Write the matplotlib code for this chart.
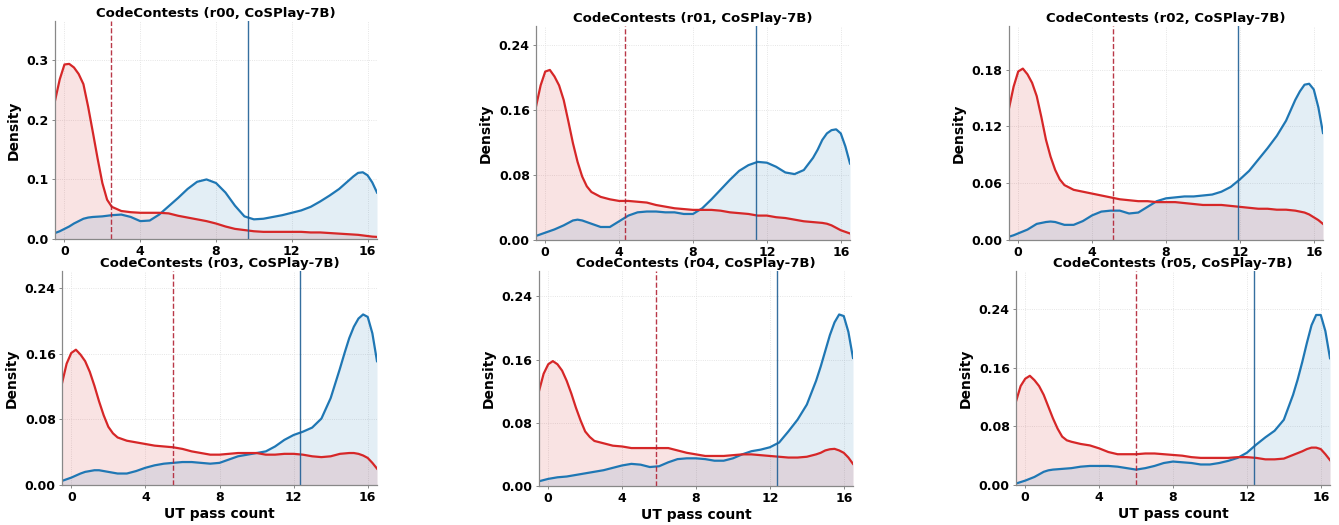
import numpy as np
import matplotlib
matplotlib.use("Agg")
import matplotlib.pyplot as plt

# density curves; denser sampling near the peaks
GRID = ([-0.5, -0.25, 0.0, 0.25, 0.5, 0.75, 1.0, 1.25, 1.5, 1.75, 2.0, 2.25, 2.5]
        + [3.0 + 0.5 * k for k in range(24)]
        + [14.75, 15.0, 15.25, 15.5, 15.75, 16.0, 16.25, 16.5])
RUNS = ["r00", "r01", "r02", "r03", "r04", "r05"]

fail_r00 = [0.232, 0.268, 0.293, 0.294, 0.288, 0.277, 0.260, 0.222, 0.179, 0.135, 0.094, 0.066, 0.054,
            0.047, 0.045, 0.044, 0.044, 0.044, 0.043, 0.039, 0.036, 0.033, 0.030, 0.026, 0.021,
            0.017, 0.015, 0.013, 0.012, 0.012, 0.012, 0.012, 0.012, 0.011, 0.011, 0.010, 0.009,
            0.0085, 0.008, 0.0075, 0.007, 0.006, 0.005, 0.004, 0.0035]
pass_r00 = [0.010, 0.013, 0.017, 0.021, 0.026, 0.030, 0.034, 0.036, 0.037, 0.0375, 0.038, 0.039, 0.040,
            0.041, 0.037, 0.030, 0.031, 0.041, 0.055, 0.069, 0.084, 0.096, 0.100, 0.094, 0.078,
            0.056, 0.038, 0.033, 0.034, 0.037, 0.040, 0.044, 0.048, 0.054, 0.063, 0.073, 0.084,
            0.091, 0.098, 0.105, 0.111, 0.112, 0.107, 0.095, 0.078]

fail_r01 = [0.164, 0.190, 0.207, 0.209, 0.201, 0.190, 0.172, 0.146, 0.119, 0.096, 0.078, 0.066, 0.059,
            0.053, 0.050, 0.048, 0.048, 0.047, 0.046, 0.043, 0.041, 0.039, 0.038, 0.037, 0.037,
            0.037, 0.036, 0.034, 0.033, 0.032, 0.030, 0.030, 0.028, 0.027, 0.025, 0.023, 0.022,
            0.0215, 0.021, 0.020, 0.018, 0.015, 0.012, 0.010, 0.008]
pass_r01 = [0.005, 0.007, 0.009, 0.011, 0.013, 0.0155, 0.018, 0.021, 0.024, 0.025, 0.024, 0.022, 0.020,
            0.016, 0.016, 0.023, 0.030, 0.034, 0.035, 0.035, 0.034, 0.034, 0.032, 0.032, 0.039,
            0.050, 0.062, 0.074, 0.085, 0.092, 0.096, 0.095, 0.090, 0.083, 0.081, 0.086, 0.101,
            0.111, 0.123, 0.131, 0.135, 0.136, 0.131, 0.115, 0.094]

fail_r02 = [0.139, 0.162, 0.178, 0.181, 0.175, 0.166, 0.152, 0.130, 0.106, 0.088, 0.074, 0.064, 0.058,
            0.053, 0.051, 0.049, 0.047, 0.045, 0.043, 0.042, 0.041, 0.041, 0.040, 0.040, 0.040,
            0.039, 0.038, 0.037, 0.037, 0.037, 0.036, 0.035, 0.034, 0.033, 0.033, 0.032, 0.032,
            0.0315, 0.031, 0.030, 0.029, 0.027, 0.024, 0.021, 0.017]
pass_r02 = [0.0035, 0.005, 0.007, 0.009, 0.011, 0.014, 0.017, 0.018, 0.019, 0.0195, 0.019, 0.0175, 0.016,
            0.016, 0.020, 0.026, 0.030, 0.031, 0.031, 0.028, 0.029, 0.035, 0.041, 0.044, 0.045,
            0.046, 0.046, 0.047, 0.048, 0.051, 0.056, 0.064, 0.073, 0.085, 0.097, 0.110, 0.126,
            0.137, 0.148, 0.157, 0.164, 0.165, 0.159, 0.140, 0.113]

fail_r03 = [0.124, 0.148, 0.161, 0.165, 0.159, 0.151, 0.138, 0.121, 0.102, 0.085, 0.071, 0.063, 0.058,
            0.054, 0.052, 0.050, 0.048, 0.047, 0.046, 0.044, 0.041, 0.039, 0.037, 0.037, 0.038,
            0.039, 0.039, 0.039, 0.037, 0.037, 0.038, 0.038, 0.037, 0.035, 0.034, 0.035, 0.038,
            0.0385, 0.039, 0.039, 0.038, 0.036, 0.033, 0.027, 0.020]
pass_r03 = [0.005, 0.007, 0.009, 0.0115, 0.014, 0.016, 0.017, 0.018, 0.018, 0.017, 0.016, 0.015, 0.014,
            0.014, 0.017, 0.021, 0.024, 0.026, 0.027, 0.028, 0.028, 0.027, 0.026, 0.027, 0.031,
            0.035, 0.037, 0.039, 0.041, 0.047, 0.055, 0.061, 0.065, 0.070, 0.081, 0.106, 0.142,
            0.161, 0.179, 0.193, 0.203, 0.208, 0.205, 0.185, 0.151]

fail_r04 = [0.120, 0.142, 0.154, 0.158, 0.154, 0.146, 0.133, 0.117, 0.099, 0.083, 0.069, 0.062, 0.057,
            0.054, 0.051, 0.050, 0.048, 0.048, 0.048, 0.048, 0.048, 0.045, 0.042, 0.040, 0.038,
            0.038, 0.038, 0.039, 0.040, 0.040, 0.039, 0.038, 0.037, 0.036, 0.036, 0.037, 0.040,
            0.042, 0.045, 0.0465, 0.047, 0.045, 0.042, 0.036, 0.028]
pass_r04 = [0.006, 0.0075, 0.009, 0.010, 0.011, 0.0115, 0.012, 0.013, 0.014, 0.015, 0.016, 0.017, 0.018,
            0.020, 0.023, 0.026, 0.028, 0.027, 0.024, 0.025, 0.030, 0.034, 0.035, 0.035, 0.034,
            0.032, 0.032, 0.035, 0.040, 0.044, 0.046, 0.049, 0.055, 0.069, 0.084, 0.103, 0.133,
            0.151, 0.171, 0.191, 0.207, 0.217, 0.215, 0.195, 0.162]

fail_r05 = [0.114, 0.135, 0.145, 0.149, 0.143, 0.135, 0.123, 0.107, 0.091, 0.077, 0.066, 0.061, 0.059,
            0.056, 0.054, 0.050, 0.045, 0.042, 0.042, 0.042, 0.043, 0.043, 0.042, 0.041, 0.040,
            0.038, 0.037, 0.037, 0.037, 0.037, 0.038, 0.038, 0.037, 0.035, 0.035, 0.036, 0.041,
            0.0435, 0.046, 0.049, 0.051, 0.051, 0.049, 0.042, 0.034]
pass_r05 = [0.002, 0.004, 0.006, 0.0085, 0.011, 0.0145, 0.018, 0.020, 0.021, 0.0215, 0.022, 0.0225, 0.023,
            0.025, 0.026, 0.026, 0.026, 0.025, 0.023, 0.021, 0.023, 0.026, 0.030, 0.032, 0.031,
            0.030, 0.028, 0.028, 0.030, 0.033, 0.037, 0.044, 0.055, 0.065, 0.074, 0.089, 0.123,
            0.144, 0.168, 0.194, 0.218, 0.232, 0.232, 0.210, 0.173]

FAIL = [fail_r00, fail_r01, fail_r02, fail_r03, fail_r04, fail_r05]
PASS = [pass_r00, pass_r01, pass_r02, pass_r03, pass_r04, pass_r05]

# group means (vertical lines)
fail_mean = [2.47, 4.34, 5.12, 5.50, 5.86, 5.99]
pass_mean = [9.67, 11.39, 11.88, 12.32, 12.41, 12.41]

y_top = [0.366, 0.263, 0.226, 0.261, 0.272, 0.292]
y_ticks = [[0.0, 0.1, 0.2, 0.3],
           [0.0, 0.08, 0.16, 0.24],
           [0.0, 0.06, 0.12, 0.18],
           [0.0, 0.08, 0.16, 0.24],
           [0.0, 0.08, 0.16, 0.24],
           [0.0, 0.08, 0.16, 0.24]]
y_fmt = ["{:.1f}", "{:.2f}", "{:.2f}", "{:.2f}", "{:.2f}", "{:.2f}"]

RED = "#d62728"
BLUE = "#1f77b4"

W, H = 1339, 525
# axes boxes in pixels: left, right, top, bottom
BOXES = [(55, 377, 21, 239), (536, 850, 26, 240), (1009, 1323, 26, 240),
         (62, 377, 271, 485), (539, 853, 271, 486), (1016, 1330, 271, 485)]

fig = plt.figure(figsize=(W / 100, H / 100), dpi=100)

for i, run in enumerate(RUNS):
    l, r, t, b = BOXES[i]
    ax = fig.add_axes([l / W, 1 - b / H, (r - l) / W, (b - t) / H])

    ax.fill_between(GRID, FAIL[i], color=RED, alpha=0.13, lw=0)
    ax.fill_between(GRID, PASS[i], color=BLUE, alpha=0.12, lw=0)
    ax.plot(GRID, PASS[i], color=BLUE, lw=1.6, solid_joinstyle="round")
    ax.plot(GRID, FAIL[i], color=RED, lw=1.6, solid_joinstyle="round")

    ax.axvline(fail_mean[i], color="#b22234", lw=1.0, ls="--", alpha=0.9)
    ax.axvline(pass_mean[i], color="#1f5f95", lw=1.0, alpha=0.9)

    ax.set_xlim(-0.5, 16.5)
    ax.set_ylim(0, y_top[i])
    ax.set_xticks([0, 4, 8, 12, 16])
    ax.set_yticks(y_ticks[i])
    ax.set_yticklabels([y_fmt[i].format(v) for v in y_ticks[i]])
    ax.grid(True, ls=":", lw=0.6, color="#dddddd")
    ax.set_axisbelow(True)

    for side in ["top", "right"]:
        ax.spines[side].set_visible(False)
    for side in ["left", "bottom"]:
        ax.spines[side].set_color("#888888")
        ax.spines[side].set_linewidth(0.9)
    ax.tick_params(length=2.5, width=0.7, color="#888888", pad=2, labelsize=9)
    for lab in ax.get_xticklabels() + ax.get_yticklabels():
        lab.set_fontweight("bold")

    ax.set_title(f"CodeContests ({run}, CoSPlay-7B)", fontsize=9.5, fontweight="bold", pad=3)
    ax.set_ylabel("Density", fontsize=10, fontweight="bold")
    if i >= 3:
        ax.set_xlabel("UT pass count", fontsize=10, fontweight="bold", labelpad=2)

fig.savefig("out.png", dpi=100)
